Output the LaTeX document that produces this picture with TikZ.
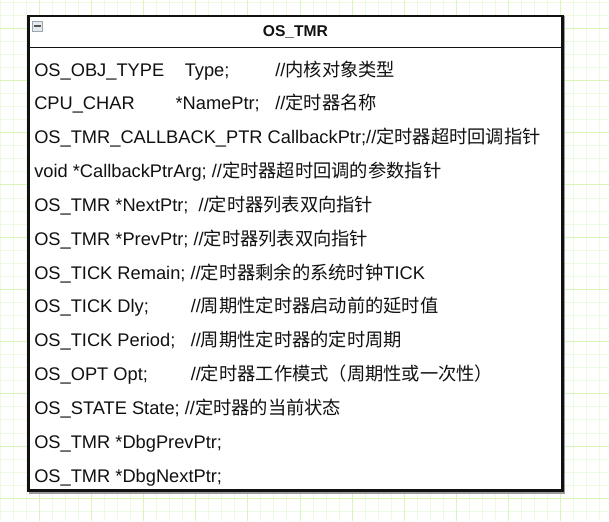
\documentclass[tikz,border=0pt]{standalone}
\usepackage{fontspec}
\setmainfont{Liberation Sans}
\newfontfamily\cjk{Noto Sans CJK SC}
\usetikzlibrary{positioning}
\definecolor{Ink}{HTML}{111111}
\definecolor{GridMinor}{HTML}{EDFAE2}
\definecolor{GridMajor}{HTML}{D9F6B8}
\definecolor{Shade}{HTML}{9A9A9A}
\definecolor{IconLine}{HTML}{9AA6B2}
\definecolor{IconFill}{HTML}{E6EAEE}
\definecolor{IconMinus}{HTML}{555555}
\tikzset{
  gridminor/.style={draw=GridMinor,line width=0.75pt},
  gridmajor/.style={draw=GridMajor,line width=0.75pt},
  classbox/.style={draw=Ink,fill=white,line width=2pt,minimum width=400.3pt,minimum height=355.9pt,inner sep=0pt,
    preaction={draw=Shade,line width=2pt,transform canvas={shift={(1.3pt,-1.3pt)}}}},
  headbox/.style={minimum width=400.3pt,minimum height=24.4pt,inner sep=0pt,text depth=0pt,font=\fontsize{11.7}{14}\selectfont\bfseries,text=Ink},
  sepline/.style={draw=Ink,line width=0.8pt},
  iconbox/.style={draw=IconLine,fill=IconFill,line width=0.75pt,minimum size=7.8pt,inner sep=0pt,text=IconMinus},
  rowtext/.style={anchor=base west,inner sep=0pt,font=\fontsize{13.7}{16}\selectfont,text=Ink}
}
\begin{document}
\begin{tikzpicture}[x=0.75pt,y=-0.75pt]
  \useasboundingbox (0,0) rectangle (609,521);
  \fill[white] (0,0) rectangle (609,521);
  \foreach \k in {0,...,46} {\draw[gridminor] ({0.2+13.035*\k},0) -- ({0.2+13.035*\k},521);}
  \foreach \k in {0,...,39} {\draw[gridminor] (0,{2.2+13.055*\k}) -- (609,{2.2+13.055*\k});}
  \foreach \k in {3,7,...,43} {\draw[gridmajor] ({0.2+13.035*\k},0) -- ({0.2+13.035*\k},521);}
  \foreach \k in {2,6,...,38} {\draw[gridmajor] (0,{2.2+13.055*\k}) -- (609,{2.2+13.055*\k});}

  \node[classbox] (tmr) at (295.4,253.25) {};
  \node[headbox,anchor=north] (head) at (tmr.north) {OS\_TMR};
  \draw[sepline] (head.south west) -- (head.south east);
  \node[iconbox,below right=4.4pt and 3.6pt of tmr.north west] (collapse) {\rule{5pt}{1.4pt}};

  \node[rowtext] (r1) at (34,76) {\makebox[112.9pt][l]{OS\_OBJ\_TYPE}\makebox[67.9pt][l]{Type;}//{\cjk 内核对象类型}};
  \node[rowtext] (r2) at (34,109.85) {\makebox[106pt][l]{CPU\_CHAR}\makebox[74.8pt][l]{*NamePtr;}//{\cjk 定时器名称}};
  \node[rowtext] (r3) at (34,143.7) {OS\_TMR\_CALLBACK\_PTR CallbackPtr;//{\cjk 定时器超时回调指针}};
  \node[rowtext] (r4) at (34,177.55) {void *CallbackPtrArg; //{\cjk 定时器超时回调的参数指针}};
  \node[rowtext] (r5) at (34,211.4) {OS\_TMR *NextPtr;\ \ //{\cjk 定时器列表双向指针}};
  \node[rowtext] (r6) at (34,245.25) {OS\_TMR *PrevPtr; //{\cjk 定时器列表双向指针}};
  \node[rowtext] (r7) at (34,279.1) {OS\_TICK Remain; //{\cjk 定时器剩余的系统时钟}TICK};
  \node[rowtext] (r8) at (34,312.95) {\makebox[117.4pt][l]{OS\_TICK Dly;}//{\cjk 周期性定时器启动前的延时值}};
  \node[rowtext] (r9) at (34,346.8) {\makebox[117.4pt][l]{OS\_TICK Period;}//{\cjk 周期性定时器的定时周期}};
  \node[rowtext] (r10) at (34,380.65) {\makebox[117.4pt][l]{OS\_OPT Opt;}//{\cjk 定时器工作模式（周期性或一次性）}};
  \node[rowtext] (r11) at (34,414.5) {OS\_STATE State; //{\cjk 定时器的当前状态}};
  \node[rowtext] (r12) at (34,448.35) {OS\_TMR *DbgPrevPtr;};
  \node[rowtext] (r13) at (34,482.2) {OS\_TMR *DbgNextPtr;};
\end{tikzpicture}
\end{document}
